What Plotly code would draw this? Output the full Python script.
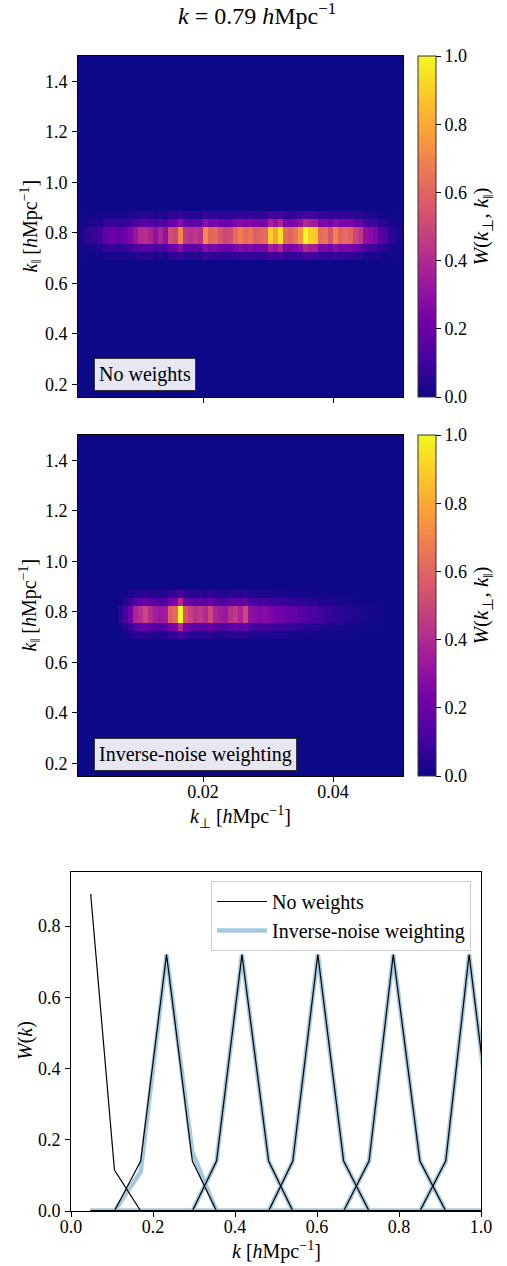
import numpy as np
import plotly.graph_objects as go

W, H = 507, 1266
FONT = "Liberation Serif"

# ---------------- heatmap data ----------------
# k_perp column profile (65 columns, width dk_perp)
kperp_first = 0.001154
kperp_step = 0.000769
no_weight_cols = [0.02, 0.05, 0.07, 0.08, 0.10, 0.18, 0.20, 0.20, 0.18, 0.22,
                  0.25, 0.32, 0.40, 0.42, 0.38, 0.30, 0.38, 0.30, 0.52, 0.50,
                  0.70, 0.45, 0.42, 0.45, 0.42, 0.72, 0.60, 0.62, 0.55, 0.50,
                  0.52, 0.62, 0.68, 0.62, 0.65, 0.58, 0.60, 0.62, 0.90, 0.78,
                  0.95, 0.62, 0.60, 0.65, 0.75, 1.00, 0.90, 0.88, 0.62, 0.65,
                  0.55, 0.70, 0.60, 0.62, 0.60, 0.50, 0.45, 0.30, 0.28, 0.25,
                  0.15, 0.12, 0.06, 0.04, 0.02]
inv_noise_cols = [0, 0, 0, 0, 0, 0, 0, 0, 0.05, 0.12,
                  0.22, 0.38, 0.42, 0.50, 0.40, 0.35, 0.33, 0.35, 0.58, 0.62,
                  1.00, 0.55, 0.48, 0.42, 0.45, 0.40, 0.50, 0.38, 0.35, 0.32,
                  0.42, 0.45, 0.38, 0.50, 0.30, 0.28, 0.26, 0.28, 0.25, 0.22,
                  0.22, 0.20, 0.18, 0.18, 0.16, 0.15, 0.12, 0.12, 0.10, 0.08,
                  0.08, 0.07, 0.06, 0.05, 0.04, 0.04, 0.03, 0.02, 0.02, 0.01,
                  0.01, 0, 0, 0, 0]
# k_par rows: grid start/step, and the rows of the band around k = 0.79
kpar_first = 0.134
kpar_step = 0.032
kpar_nrows = 44
band_first_row = 18          # row centred at 0.710
band_row_weights = [0.12, 0.40, 1.00, 1.00, 0.40, 0.12]


def build_z(cols):
    z = np.zeros((kpar_nrows, len(cols)))
    for i, w in enumerate(band_row_weights):
        z[band_first_row + i, :] = w * np.array(cols)
    return z


# ---------------- line-chart data ----------------
k_vals = [0.048, 0.106, 0.170, 0.233, 0.296, 0.355, 0.417, 0.482, 0.541,
          0.602, 0.665, 0.727, 0.786, 0.851, 0.914, 0.971, 1.033]
no_weights_W = [
    [0.89, 0.115, 0, 0, 0, 0, 0, 0, 0, 0, 0, 0, 0, 0, 0, 0, 0],
    [0, 0, 0.14, 0.72, 0.14, 0, 0, 0, 0, 0, 0, 0, 0, 0, 0, 0, 0],
    [0, 0, 0, 0, 0, 0.14, 0.72, 0.14, 0, 0, 0, 0, 0, 0, 0, 0, 0],
    [0, 0, 0, 0, 0, 0, 0, 0, 0.14, 0.72, 0.14, 0, 0, 0, 0, 0, 0],
    [0, 0, 0, 0, 0, 0, 0, 0, 0, 0, 0, 0.14, 0.72, 0.14, 0, 0, 0],
    [0, 0, 0, 0, 0, 0, 0, 0, 0, 0, 0, 0, 0, 0, 0.14, 0.72, 0.14],
]
inv_noise_W = [
    [0, 0, 0, 0, 0, 0, 0, 0, 0, 0, 0, 0, 0, 0, 0, 0, 0],
    [0, 0, 0.11, 0.72, 0.165, 0, 0, 0, 0, 0, 0, 0, 0, 0, 0, 0, 0],
    [0, 0, 0, 0, 0, 0.14, 0.72, 0.14, 0, 0, 0, 0, 0, 0, 0, 0, 0],
    [0, 0, 0, 0, 0, 0, 0, 0, 0.14, 0.72, 0.14, 0, 0, 0, 0, 0, 0],
    [0, 0, 0, 0, 0, 0, 0, 0, 0, 0, 0, 0.14, 0.72, 0.14, 0, 0, 0],
    [0, 0, 0, 0, 0, 0, 0, 0, 0, 0, 0, 0, 0, 0, 0.14, 0.72, 0.14],
]

cb_ticks = [0.0, 0.2, 0.4, 0.6, 0.8, 1.0]
kpar_ticks = [0.2, 0.4, 0.6, 0.8, 1.0, 1.2, 1.4]
kperp_ticks = [0.02, 0.04]
k_ticks = [0.0, 0.2, 0.4, 0.6, 0.8, 1.0]
W_ticks = [0.0, 0.2, 0.4, 0.6, 0.8]

TICK = 18
TXT = 20


def fx(p):
    return p / W


def fy(p):
    return 1 - p / H


PAR = "‖"
cb_title = f"<i>W</i>(<i>k</i><sub>⊥</sub>,&nbsp;<i>k</i><sub>{PAR}</sub>)"
unit = "[<i>h</i>Mpc<sup>−1</sup>]"

fig = go.Figure()

panels = [(no_weight_cols, "x", "y", 56, 397), (inv_noise_cols, "x2", "y2", 435, 776)]
for cols, xa, ya, top, bot in panels:
    fig.add_trace(go.Heatmap(
        z=build_z(cols), x0=kperp_first, dx=kperp_step, y0=kpar_first, dy=kpar_step,
        colorscale="Plasma", zmin=0, zmax=1, xaxis=xa, yaxis=ya, zsmooth=False,
        colorbar=dict(
            x=fx(418), xanchor="left", y=fy((top + bot) / 2), yanchor="middle",
            len=(bot - top) / H, lenmode="fraction", thickness=18, xpad=0, ypad=0,
            outlinewidth=1, outlinecolor="#333333",
            ticks="outside", ticklen=5, tickcolor="black",
            tickvals=cb_ticks, ticktext=[f"{v:.1f}" for v in cb_ticks],
            tickfont=dict(family=FONT, size=TICK, color="black"),
            title=dict(text=cb_title, side="right",
                       font=dict(family=FONT, size=21, color="black")),
        ),
    ))

# line chart
for i, vals in enumerate(inv_noise_W):
    fig.add_trace(go.Scatter(
        x=k_vals, y=vals, mode="lines", xaxis="x3", yaxis="y3",
        line=dict(color="#a5c9e1", width=4.5),
        name="Inverse-noise weighting", legendgroup="inv",
        showlegend=(i == 0), legendrank=2))
for i, vals in enumerate(no_weights_W):
    fig.add_trace(go.Scatter(
        x=k_vals, y=vals, mode="lines", xaxis="x3", yaxis="y3",
        line=dict(color="black", width=1.2),
        name="No weights", legendgroup="now",
        showlegend=(i == 0), legendrank=1))

axis_common = dict(showline=True, linecolor="black", linewidth=1, mirror=True,
                   ticks="outside", ticklen=5, tickcolor="black", showgrid=False,
                   zeroline=False, tickfont=dict(family=FONT, size=TICK, color="black"),
                   automargin=False)
xax = dict(axis_common, ticklabelstandoff=-6)
yax = dict(axis_common, ticklabelstandoff=1)

hx = [fx(78), fx(403)]
fig.update_layout(
    width=W, height=H, margin=dict(l=0, r=0, t=0, b=0, autoexpand=False),
    paper_bgcolor="white", plot_bgcolor="white",
    font=dict(family=FONT, size=TXT, color="black"),
    title=dict(text="<i>k</i>&nbsp;=&nbsp;0.79&nbsp;<i>h</i>Mpc<sup>−1</sup>", x=fx(257),
               xanchor="center", y=fy(16), yanchor="middle", yref="container", xref="container",
               font=dict(family=FONT, size=24, color="black")),
    xaxis=dict(domain=hx, anchor="y", range=[0.000769, 0.050769],
               tickvals=kperp_ticks, showticklabels=False, **xax),
    yaxis=dict(domain=[fy(397), fy(56)], anchor="x", range=[0.15, 1.5],
               tickvals=kpar_ticks, ticktext=[f"{v:.1f}" for v in kpar_ticks], **yax),
    xaxis2=dict(domain=hx, anchor="y2", range=[0.000769, 0.050769],
                tickvals=kperp_ticks, ticktext=[f"{v:.2f}" for v in kperp_ticks], **xax),
    yaxis2=dict(domain=[fy(776), fy(435)], anchor="x2", range=[0.15, 1.5],
                tickvals=kpar_ticks, ticktext=[f"{v:.1f}" for v in kpar_ticks], **yax),
    xaxis3=dict(domain=[fx(71), fx(481)], anchor="y3", range=[0, 1],
                tickvals=k_ticks, ticktext=[f"{v:.1f}" for v in k_ticks], **xax),
    yaxis3=dict(domain=[fy(1211), fy(872)], anchor="x3", range=[0, 0.9517],
                tickvals=W_ticks, ticktext=[f"{v:.1f}" for v in W_ticks], **yax),
    legend=dict(x=fx(471), y=fy(881), xanchor="right", yanchor="top",
                bgcolor="white", bordercolor="#cccccc", borderwidth=1,
                font=dict(family=FONT, size=TXT, color="black"),
                itemwidth=50, tracegroupgap=0),
)

box = dict(bgcolor="#e7e6f3", bordercolor="#333333", borderwidth=1, borderpad=4,
           font=dict(family=FONT, size=TXT, color="black"), showarrow=False,
           xanchor="left", yanchor="bottom")
fig.add_annotation(text="No weights", xref="x domain", yref="y domain",
                   x=(94 - 78) / 325, y=(397 - 391) / 341, **box)
fig.add_annotation(text="Inverse-noise weighting", xref="x2 domain", yref="y2 domain",
                   x=(94 - 78) / 325, y=(776 - 771) / 341, **box)

# axis titles
tfont = dict(family=FONT, size=TXT, color="black")
for yc in [(56 + 397) / 2, (435 + 776) / 2]:
    fig.add_annotation(text=f"<i>k</i><sub>{PAR}</sub> " + unit, xref="paper", yref="paper",
                       x=fx(30), y=fy(yc), textangle=-90, showarrow=False,
                       xanchor="center", yanchor="middle", font=tfont)
fig.add_annotation(text="<i>k</i><sub>⊥</sub> " + unit, xref="paper", yref="paper",
                   x=fx(240.5), y=fy(817), showarrow=False,
                   xanchor="center", yanchor="middle", font=tfont)
fig.add_annotation(text="<i>W</i>(<i>k</i>)", xref="paper", yref="paper",
                   x=fx(25), y=fy(1041), textangle=-90, showarrow=False,
                   xanchor="center", yanchor="middle", font=tfont)
fig.add_annotation(text="<i>k</i> " + unit, xref="paper", yref="paper",
                   x=fx(276), y=fy(1250), showarrow=False,
                   xanchor="center", yanchor="middle", font=tfont)

fig.write_html("out.html")
